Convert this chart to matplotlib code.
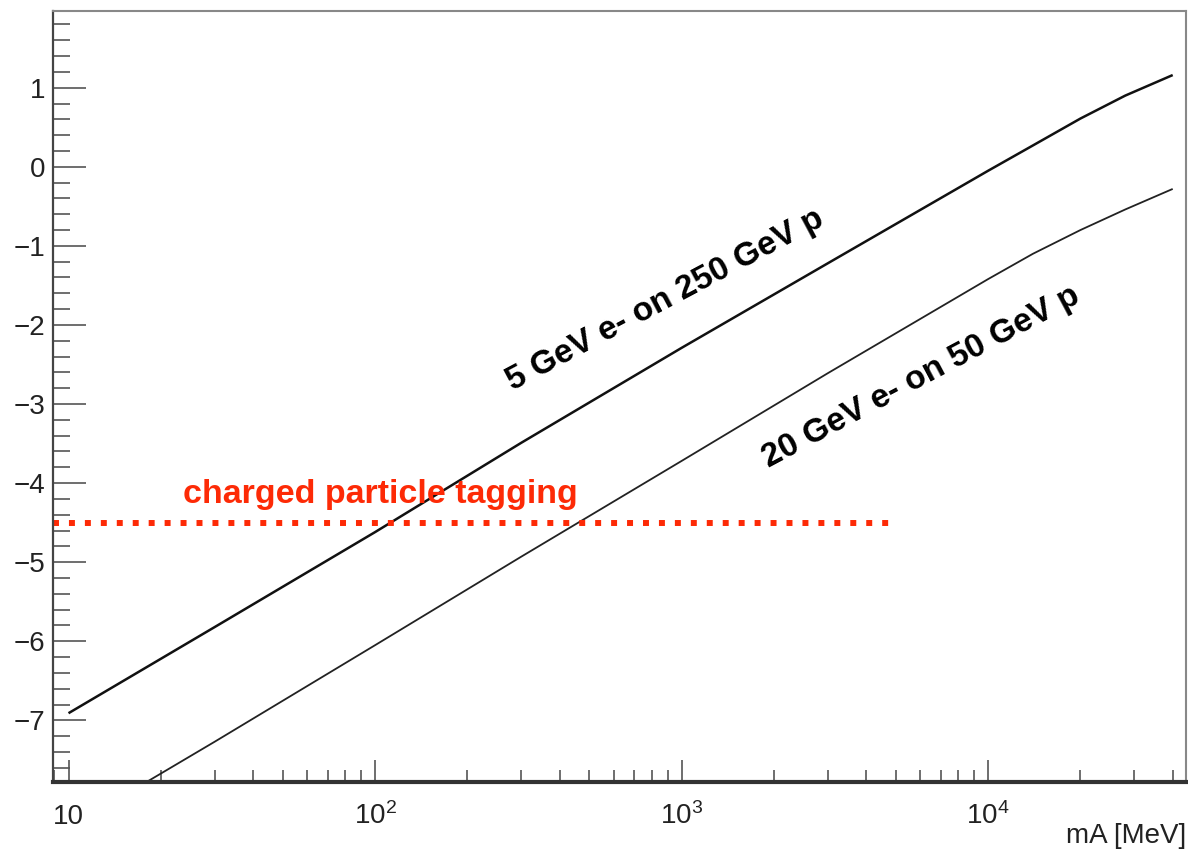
import matplotlib
matplotlib.use("Agg")
import matplotlib.pyplot as plt
import matplotlib.transforms as mtransforms
from matplotlib.ticker import LogLocator, MultipleLocator, NullFormatter

# ---- data ----
mA_upper = [10, 30, 100, 300, 1000, 3000, 10000, 14000, 20000, 28000, 40000]
y_upper = [-6.91, -5.82, -4.62, -3.49, -2.29, -1.22, -0.05, 0.27, 0.61, 0.90, 1.16]

mA_lower = [15, 30, 100, 300, 1000, 3000, 10000, 14000, 20000, 28000, 40000]
y_lower = [-7.96, -7.27, -6.05, -4.93, -3.72, -2.61, -1.42, -1.10, -0.80, -0.54, -0.28]

tag_x = [8.9, 4800]
tag_y = [-4.5, -4.5]

xtick_vals = [10, 100, 1000, 10000]
xtick_labels = ["10", r"$\mathregular{10^{2}}$", r"$\mathregular{10^{3}}$", r"$\mathregular{10^{4}}$"]
ytick_vals = [-7, -6, -5, -4, -3, -2, -1, 0, 1]
ytick_labels = ["\u22127", "\u22126", "\u22125", "\u22124", "\u22123", "\u22122", "\u22121", "0", "1"]

label_upper = "5 GeV e- on 250 GeV p"
label_lower = "20 GeV e- on 50 GeV p"
label_tag = "charged particle tagging"
xlabel = "mA [MeV]"

plt.rcParams['font.family'] = ['Liberation Sans', 'DejaVu Sans']
plt.rcParams['mathtext.fontset'] = 'custom'
plt.rcParams['mathtext.rm'] = 'Liberation Sans'

fig = plt.figure(figsize=(11.88, 8.52), dpi=100)
ax = fig.add_axes([53/1188, 70/852, (1186-53)/1188, (782-11)/852])

ax.set_xscale('log')
ax.set_xlim(8.9, 44200)
ax.set_ylim(-7.78, 1.97)

ax.plot(mA_upper, y_upper, color='#111111', lw=1.8, solid_capstyle='butt')
ax.plot(mA_lower, y_lower, color='#222222', lw=1.3, solid_capstyle='butt')
ax.plot(tag_x, tag_y, color='#fd2a06', lw=4.3, linestyle=(0, (1.0, 1.67)),
        dash_capstyle='butt')

red = '#fd2a06'
ax.text(104, -4.25, label_tag, color=red, fontsize=24.5, fontweight='bold',
        ha='center', va='baseline')
ax.text(881, -1.68, label_upper, color='black', fontsize=24, fontweight='bold',
        ha='center', va='center', rotation=28, rotation_mode='anchor')
ax.text(6030, -2.66, label_lower, color='black', fontsize=24, fontweight='bold',
        ha='center', va='center', rotation=28, rotation_mode='anchor')

# ticks
ax.set_xticks(xtick_vals)
ax.set_xticklabels([""] * len(xtick_vals))
ax.xaxis.set_minor_locator(LogLocator(base=10, subs=[2, 3, 4, 5, 6, 7, 8, 9]))
ax.xaxis.set_minor_formatter(NullFormatter())
ax.set_yticks(ytick_vals)
ax.set_yticklabels(ytick_labels)
ax.yaxis.set_minor_locator(MultipleLocator(0.2))

ax.tick_params(axis='x', which='major', direction='in', length=16, width=1.2,
               color='#555555', top=False)
ax.tick_params(axis='x', which='minor', direction='in', length=8.5, width=1.2,
               color='#555555', top=False)
ax.tick_params(axis='y', which='major', direction='in', length=24, width=1.2,
               color='#555555', right=False, labelsize=20, labelcolor='#222222', pad=5.5)
ax.tick_params(axis='y', which='minor', direction='in', length=12.5, width=1.2,
               color='#555555', right=False)

trans = mtransforms.blended_transform_factory(ax.transData, fig.transFigure)
for xv, lab in zip(xtick_vals, xtick_labels):
    ax.text(xv, (852 - 824) / 852, lab, transform=trans, fontsize=20,
            color='#222222', ha='center', va='baseline', clip_on=False)

fig.text(1186/1188, (852 - 843) / 852, xlabel, fontsize=20, color='#222222',
         ha='right', va='baseline')

ax.spines['bottom'].set_linewidth(3.0)
ax.spines['bottom'].set_color('#333333')
ax.spines['left'].set_linewidth(1.6)
ax.spines['left'].set_color('#444444')
for s in ('top', 'right'):
    ax.spines[s].set_linewidth(1.5)
    ax.spines[s].set_color('#888888')

fig.savefig('out.png', dpi=100, facecolor='white')
